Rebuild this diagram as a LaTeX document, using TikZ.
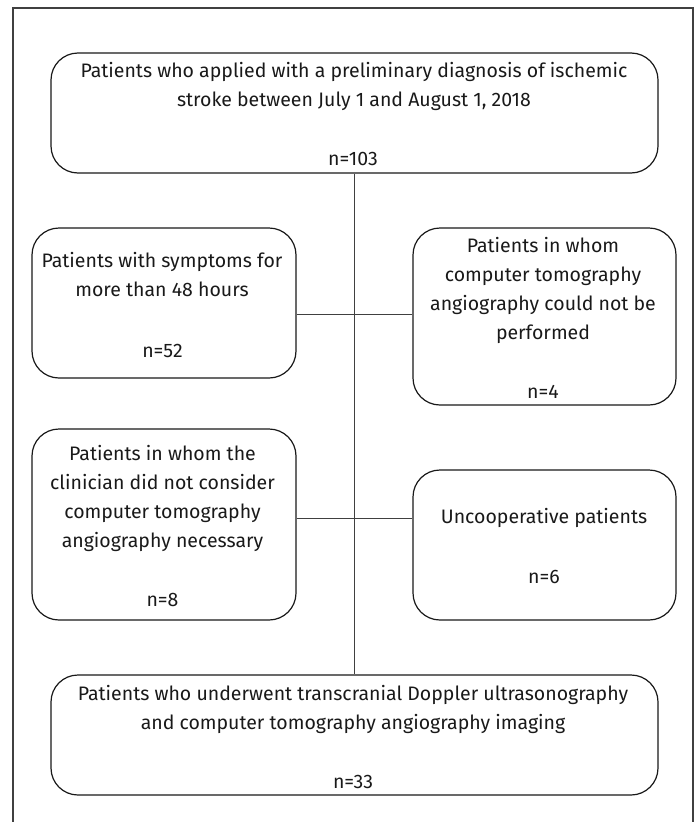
\documentclass[tikz,border=0pt]{standalone}
\usepackage{fontspec}
\IfFontExistsTF{FiraSans-Light.otf}{\setmainfont{FiraSans-Light.otf}}{\setmainfont{Fira Sans}}
\usetikzlibrary{calc}
\newcommand{\blk}[1]{\begin{tabular}[t]{@{}c@{}}#1\end{tabular}}
\tikzset{
  box/.style={draw=black!90, line width=1.2pt, rounded corners=27pt, inner sep=0pt},
  txt/.style={anchor=base, inner sep=0pt, text=black!90, font=\fontsize{19.5}{29}\selectfont},
  link/.style={draw=black!75, line width=1pt},
  frame/.style={draw=black!75, line width=1.4pt}
}
\begin{document}
\begin{tikzpicture}[x=1pt,y=-1pt]
\useasboundingbox (0,0) rectangle (696,822);
\draw[frame] (13,822) -- (13,8) -- (693,8) -- (693,822);

\node[box, minimum width=607pt, minimum height=120pt] (top) at (354.5,113) {};
\node[box, minimum width=264pt, minimum height=150pt] (l1) at (164,303) {};
\node[box, minimum width=263pt, minimum height=177pt] (r1) at (544.5,316.5) {};
\node[box, minimum width=264pt, minimum height=191pt] (l2) at (164,524.5) {};
\node[box, minimum width=263pt, minimum height=150pt] (r2) at (544.5,545) {};
\node[box, minimum width=607pt, minimum height=120pt] (bot) at (354.5,735) {};

\node[txt] (topt) at (354,77) {\blk{Patients who applied with a preliminary diagnosis of ischemic\\stroke between July 1 and August 1, 2018}};
\node[txt] (topn) at (353,165) {n=103};
\node[txt] (l1t) at (162,267) {\blk{Patients with symptoms for\\more than 48 hours}};
\node[txt] (l1n) at (162.5,357) {n=52};
\node[txt] (r1t) at (543,252) {\blk{Patients in whom\\computer tomography\\angiography could not be\\performed}};
\node[txt] (r1n) at (543,398) {n=4};
\node[txt] (l2t) at (162.5,460) {\blk{Patients in whom the\\clinician did not consider\\computer tomography\\angiography necessary}};
\node[txt] (l2n) at (162.5,606) {n=8};
\node[txt] (r2t) at (544,523) {Uncooperative patients};
\node[txt] (r2n) at (544,583) {n=6};
\node[txt] (bott) at (353,700) {\blk{Patients who underwent transcranial Doppler ultrasonography\\and computer tomography angiography imaging}};
\node[txt] (botn) at (353,788) {n=33};

\draw[link] (top.south) -- (bot.north);
\draw[link] (l1.east |- 0,314) -- (r1.west |- 0,314);
\draw[link] (l2.east |- 0,518) -- (r2.west |- 0,518);
\end{tikzpicture}
\end{document}
